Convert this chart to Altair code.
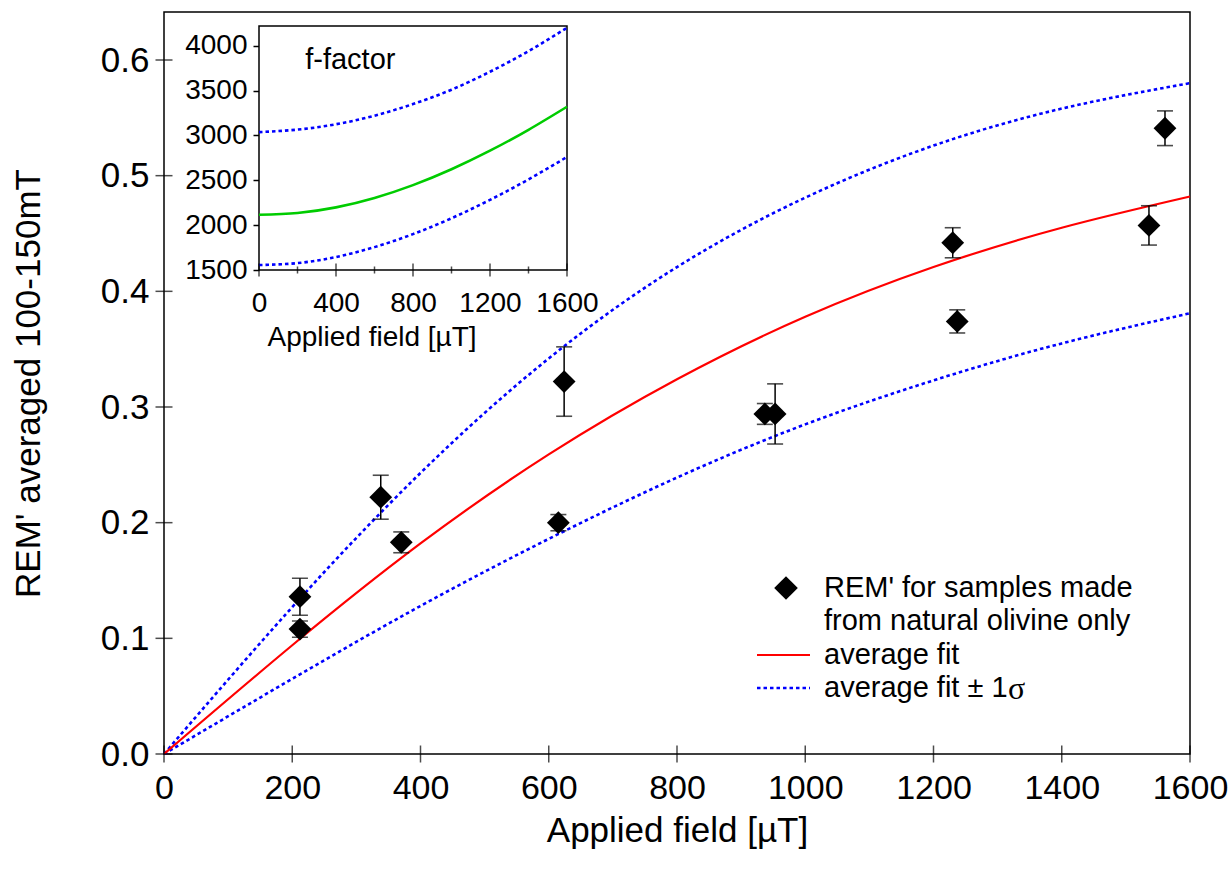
import altair as alt
import pandas as pd

FONT = "Liberation Sans"

# REM' measurements: applied field (µT), REM' averaged 100-150 mT, 1σ uncertainty
field = [212, 212, 338, 370, 615, 624, 937, 953, 1230, 1237, 1536, 1561]
rem = [0.136, 0.108, 0.222, 0.183, 0.200, 0.322, 0.294, 0.294, 0.442, 0.374, 0.457, 0.541]
rem_err = [0.016, 0.007, 0.019, 0.009, 0.007, 0.030, 0.009, 0.026, 0.013, 0.010, 0.017, 0.015]

# Average fit and ±1σ envelopes, sampled every 200 µT
fit_field = [0, 200, 400, 600, 800, 1000, 1200, 1400, 1600]
fit_avg = [0.0, 0.094, 0.182, 0.259, 0.324, 0.378, 0.421, 0.455, 0.482]
fit_hi = [0.0, 0.127, 0.243, 0.342, 0.421, 0.481, 0.526, 0.558, 0.580]
fit_lo = [0.0, 0.065, 0.128, 0.186, 0.239, 0.285, 0.323, 0.355, 0.381]

# f-factor (inset): average and ±1σ
f_avg = [2116, 2136, 2198, 2303, 2446, 2623, 2830, 3063, 3320]
f_hi = [3037, 3065, 3125, 3220, 3350, 3510, 3710, 3940, 4200]
f_lo = [1555, 1577, 1645, 1755, 1900, 2077, 2282, 2510, 2760]

# Axis ticks
x_ticks = [0, 200, 400, 600, 800, 1000, 1200, 1400, 1600]
y_ticks = [0.0, 0.1, 0.2, 0.3, 0.4, 0.5, 0.6]
inset_x_major = [0, 400, 800, 1200, 1600]
inset_x_minor = [200, 600, 1000, 1400]
inset_y_ticks = [1500, 2000, 2500, 3000, 3500, 4000]

x_domain = [0, 1600]
y_domain = [0, 0.6415]
inset_x_domain = [0, 1600]
inset_y_domain = [1500, 4220]

W, H = 1026, 742
DOTS = [3.5, 3]

# ---------- main panel ----------
xs = alt.Scale(domain=x_domain, nice=False, zero=False)
ys = alt.Scale(domain=y_domain, nice=False, zero=False)
x_axis = alt.Axis(title="Applied field [µT]", values=x_ticks, ticks=False, domain=False,
                  grid=False, labelFont=FONT, labelFontSize=34, labelPadding=17,
                  labelFlush=False, labelOverlap=False, labelColor="black",
                  titleFont=FONT, titleFontSize=35, titleFontWeight="normal",
                  titleColor="black", titlePadding=8, format="d")
y_axis = alt.Axis(title="REM' averaged 100-150mT", values=y_ticks, ticks=False, domain=False,
                  grid=False, labelFont=FONT, labelFontSize=35, labelPadding=15,
                  labelOverlap=False, labelColor="black", format=".1f",
                  titleFont=FONT, titleFontSize=35, titleFontWeight="normal",
                  titleColor="black", titlePadding=54)


def mx(f=None, datum=None):
    if datum is not None:
        return alt.X(datum=datum, type="quantitative", scale=xs, axis=x_axis)
    return alt.X(f, type="quantitative", scale=xs, axis=x_axis)


def my(f=None, datum=None):
    if datum is not None:
        return alt.Y(datum=datum, type="quantitative", scale=ys, axis=y_axis)
    return alt.Y(f, type="quantitative", scale=ys, axis=y_axis)


fits = pd.DataFrame({"H": fit_field, "avg": fit_avg, "hi": fit_hi, "lo": fit_lo})
pts = pd.DataFrame({"H": field, "REM": rem, "err": rem_err})

line_avg = alt.Chart(fits).mark_line(color="#ff0000", strokeWidth=2.2, interpolate="natural").encode(
    x=mx("H"), y=my("avg"))
line_hi = alt.Chart(fits).mark_line(color="#0000ff", strokeWidth=2.6, strokeDash=DOTS,
                                    interpolate="natural").encode(x=mx("H"), y=my("hi"))
line_lo = alt.Chart(fits).mark_line(color="#0000ff", strokeWidth=2.6, strokeDash=DOTS,
                                    interpolate="natural").encode(x=mx("H"), y=my("lo"))

err_base = alt.Chart(pts).transform_calculate(
    lo="datum.REM - datum.err", hi="datum.REM + datum.err")
err_rule = err_base.mark_rule(color="black", strokeWidth=1.5).encode(
    x=mx("H"), y=my("lo:Q"), y2="hi:Q")
cap_lo = err_base.mark_tick(color="black", orient="horizontal", size=16, thickness=1.6).encode(
    x=mx("H"), y=my("lo:Q"))
cap_hi = err_base.mark_tick(color="black", orient="horizontal", size=16, thickness=1.6).encode(
    x=mx("H"), y=my("hi:Q"))
points = alt.Chart(pts).mark_point(shape="diamond", filled=True, size=520, color="black",
                                   opacity=1).encode(x=mx("H"), y=my("REM"))

xt = pd.DataFrame({"v": x_ticks})
yt = pd.DataFrame({"v": y_ticks})
x_tick_marks = alt.Chart(xt).mark_tick(color="black", orient="vertical", size=17, thickness=1.5).encode(
    x=mx("v"), y=my(datum=0))
y_tick_marks = alt.Chart(yt).mark_tick(color="black", orient="horizontal", size=17, thickness=1.5).encode(
    x=mx(datum=0), y=my("v"))


def label(s, x, y, size=29, font=FONT):
    return alt.Chart(pd.DataFrame({"t": [s]})).mark_text(
        align="left", baseline="middle", font=font, fontSize=size, color="black").encode(
        text="t:N", x=alt.value(x), y=alt.value(y))


key_point = alt.Chart(pd.DataFrame({"k": [1]})).mark_point(
    shape="diamond", filled=True, size=560, color="black", opacity=1).encode(
    x=alt.value(622), y=alt.value(576))
key_red = alt.Chart(pd.DataFrame({"k": [1]})).mark_rule(color="#ff0000", strokeWidth=2.2).encode(
    x=alt.value(593), x2=alt.value(646), y=alt.value(643))
key_blue = alt.Chart(pd.DataFrame({"k": [1]})).mark_rule(
    color="#0000ff", strokeWidth=2.6, strokeDash=DOTS).encode(
    x=alt.value(593), x2=alt.value(646), y=alt.value(676))

main = alt.layer(
    line_hi, line_lo, line_avg, err_rule, cap_lo, cap_hi, points,
    x_tick_marks, y_tick_marks,
    key_point, key_red, key_blue,
    label("REM' for samples made", 660, 576),
    label("from natural olivine only", 660, 609),
    label("average fit", 660, 643),
    label("average fit ± 1", 660, 676),
    label("σ", 844, 677, size=32, font="Liberation Serif"),
)

# ---------- inset: f-factor ----------
ixs = alt.Scale(domain=inset_x_domain, range=[95, 403], nice=False, zero=False)
iys = alt.Scale(domain=inset_y_domain, range=[258, 14], nice=False, zero=False)
ix_axis = alt.Axis(title="Applied field [µT]", orient="bottom", offset=-484, values=inset_x_major,
                   ticks=False, domain=False, grid=False, labelFont=FONT, labelFontSize=28,
                   labelPadding=19, labelFlush=False, labelOverlap=False, labelColor="black",
                   titleFont=FONT, titleFontSize=28, titleFontWeight="normal", titleColor="black",
                   titlePadding=6, titleX=103, titleAlign="left", format="d")
iy_axis = alt.Axis(title=None, orient="left", offset=-95, values=inset_y_ticks, ticks=True,
                   tickSize=6, tickWidth=1.5, tickColor="black", domain=False, grid=False,
                   labelFont=FONT, labelFontSize=28, labelPadding=6, labelOverlap=False,
                   labelColor="black", format="d")


def ix(f=None, datum=None):
    if datum is not None:
        return alt.X(datum=datum, type="quantitative", scale=ixs, axis=ix_axis)
    return alt.X(f, type="quantitative", scale=ixs, axis=ix_axis)


def iy(f=None, datum=None):
    if datum is not None:
        return alt.Y(datum=datum, type="quantitative", scale=iys, axis=iy_axis)
    return alt.Y(f, type="quantitative", scale=iys, axis=iy_axis)


fdf = pd.DataFrame({"Hi": fit_field, "favg": f_avg, "fhi": f_hi, "flo": f_lo})

frame = alt.Chart(pd.DataFrame({"k": [1]})).mark_rect(
    fill="white", stroke="black", strokeWidth=1.5).encode(
    x=ix(datum=inset_x_domain[0]), x2=alt.X2(datum=inset_x_domain[1]),
    y=iy(datum=inset_y_domain[0]), y2=alt.Y2(datum=inset_y_domain[1]))
f_line_avg = alt.Chart(fdf).mark_line(color="#00cc00", strokeWidth=2.6, interpolate="natural").encode(
    x=ix("Hi"), y=iy("favg"))
f_line_hi = alt.Chart(fdf).mark_line(color="#0000ff", strokeWidth=2.6, strokeDash=DOTS,
                                     interpolate="natural").encode(x=ix("Hi"), y=iy("fhi"))
f_line_lo = alt.Chart(fdf).mark_line(color="#0000ff", strokeWidth=2.6, strokeDash=DOTS,
                                     interpolate="natural").encode(x=ix("Hi"), y=iy("flo"))
ix_major = alt.Chart(pd.DataFrame({"v": inset_x_major})).mark_tick(
    color="black", orient="vertical", size=13, thickness=1.5).encode(
    x=ix("v"), y=iy(datum=inset_y_domain[0]))
ix_minor = alt.Chart(pd.DataFrame({"v": inset_x_minor})).mark_tick(
    color="black", orient="vertical", size=7, thickness=1.5).encode(
    x=ix("v"), y=iy(datum=inset_y_domain[0]))
f_title = alt.Chart(pd.DataFrame({"t": ["f-factor"]})).mark_text(
    align="left", baseline="middle", font=FONT, fontSize=29, color="black").encode(
    text="t:N", x=ix(datum=240), y=iy(datum=3840))

inset = alt.layer(frame, f_line_hi, f_line_lo, f_line_avg, ix_major, ix_minor, f_title)

chart = alt.layer(main, inset).resolve_scale(
    x="independent", y="independent"
).properties(
    width=W, height=H,
    padding={"left": 164, "top": 12, "right": 42, "bottom": 119},
    autosize=alt.AutoSizeParams(type="none"),
).configure_view(stroke="black", strokeWidth=1.5)

chart.save("out.html", embed_options={"renderer": "svg", "actions": False})
